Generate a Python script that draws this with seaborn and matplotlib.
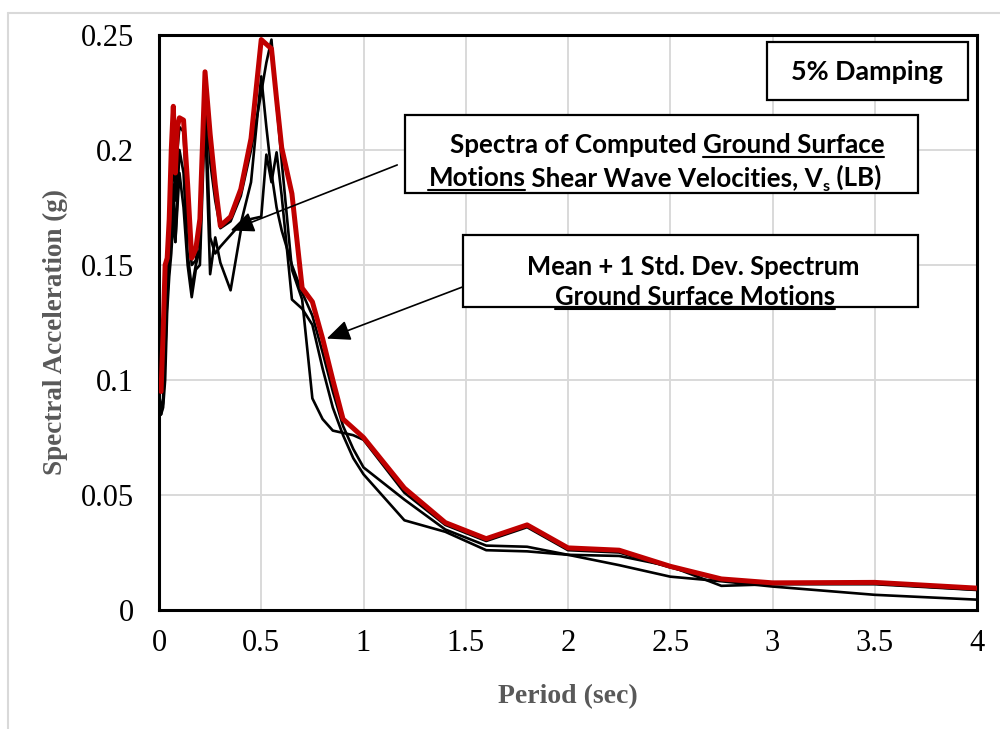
import numpy as np
import pandas as pd
import matplotlib
matplotlib.use("Agg")
import matplotlib.pyplot as plt
import seaborn as sns
from matplotlib.patches import Rectangle
from matplotlib.lines import Line2D
from matplotlib.transforms import IdentityTransform

# ---------------- data ----------------
periods = [0.01, 0.02, 0.03, 0.04, 0.05, 0.06, 0.07, 0.08, 0.09, 0.1, 0.12, 0.14,
           0.16, 0.18, 0.2, 0.225, 0.25, 0.275, 0.3, 0.35, 0.4, 0.45, 0.5, 0.525,
           0.55, 0.575, 0.6, 0.65, 0.7, 0.75, 0.8, 0.85, 0.9, 0.95, 1.0, 1.2, 1.4,
           1.6, 1.8, 2.0, 2.25, 2.5, 2.75, 3.0, 3.5, 4.0]

sa_mean_1sd = [0.095, 0.12, 0.150, 0.153, 0.17, 0.20, 0.219, 0.19, 0.21, 0.214, 0.213, 0.185,
               0.153, 0.157, 0.17, 0.234, 0.207, 0.185, 0.167, 0.171, 0.183, 0.205, 0.248, 0.246,
               0.244, 0.222, 0.201, 0.181, 0.140, 0.134, 0.118, 0.100, 0.083, 0.079, 0.075, 0.053, 0.038,
               0.031, 0.037, 0.027, 0.026, 0.019, 0.0135, 0.0118, 0.012, 0.0095]

sa_motion_1 = [0.088, 0.092, 0.125, 0.145, 0.16, 0.175, 0.205, 0.178, 0.20, 0.21, 0.208, 0.17,
               0.15, 0.152, 0.165, 0.232, 0.195, 0.178, 0.166, 0.169, 0.18, 0.20, 0.225, 0.238,
               0.248, 0.22, 0.195, 0.148, 0.135, 0.092, 0.083, 0.078, 0.077, 0.076, 0.074, 0.051, 0.037,
               0.030, 0.036, 0.026, 0.025, 0.0185, 0.013, 0.0115, 0.0115, 0.0088]

sa_motion_2 = [0.085, 0.09, 0.11, 0.135, 0.15, 0.16, 0.185, 0.16, 0.18, 0.20, 0.19, 0.155,
               0.14, 0.15, 0.157, 0.225, 0.162, 0.155, 0.158, 0.163, 0.168, 0.186, 0.232, 0.21,
               0.19, 0.175, 0.165, 0.15, 0.138, 0.128, 0.112, 0.095, 0.08, 0.07, 0.062, 0.048, 0.035,
               0.028, 0.0275, 0.024, 0.0235, 0.019, 0.0105, 0.0112, 0.0112, 0.0087]

sa_motion_3 = [0.085, 0.088, 0.10, 0.13, 0.145, 0.155, 0.17, 0.16, 0.175, 0.19, 0.175, 0.15,
               0.136, 0.148, 0.15, 0.215, 0.146, 0.162, 0.151, 0.139, 0.165, 0.170, 0.171, 0.198,
               0.186, 0.199, 0.18, 0.135, 0.131, 0.124, 0.105, 0.088, 0.076, 0.066, 0.059, 0.039, 0.034,
               0.026, 0.0255, 0.024, 0.0195, 0.0145, 0.0125, 0.0102, 0.0066, 0.0045]

x_ticks = [0, 0.5, 1, 1.5, 2, 2.5, 3, 3.5, 4]
x_tick_labels = ["0", "0.5", "1", "1.5", "2", "2.5", "3", "3.5", "4"]
y_ticks = [0, 0.05, 0.1, 0.15, 0.2, 0.25]
y_tick_labels = ["0", "0.05", "0.1", "0.15", "0.2", "0.25"]

# ---------------- style ----------------
sns.set_theme(style="white")
plt.rcParams['font.family'] = ['Liberation Serif', 'DejaVu Serif']

W, H = 1000, 729
fig = plt.figure(figsize=(W / 100, H / 100), dpi=100)
fig.patch.set_facecolor("white")

ax_l, ax_r, ax_t, ax_b = 159, 977, 35, 610
ax = fig.add_axes([ax_l / W, 1 - ax_b / H, (ax_r - ax_l) / W, (ax_b - ax_t) / H])

black_series = [sa_motion_1, sa_motion_2, sa_motion_3]
for k, vals in enumerate(black_series):
    d = pd.DataFrame({"Period": periods, "Sa": vals})
    sns.lineplot(data=d, x="Period", y="Sa", color="black", linewidth=1.9,
                 estimator=None, sort=False, ax=ax, legend=False, zorder=3)

d_red = pd.DataFrame({"Period": periods, "Sa": sa_mean_1sd})
sns.lineplot(data=d_red, x="Period", y="Sa", color="#c00000", linewidth=3.6,
             estimator=None, sort=False, ax=ax, legend=False, zorder=4)

ax.set_xlim(0, 4)
ax.set_ylim(0, 0.25)
ax.set_xticks(x_ticks)
ax.set_xticklabels(x_tick_labels)
ax.set_yticks(y_ticks)
ax.set_yticklabels(y_tick_labels)
ax.grid(True, color="#d9d9d9", linewidth=1.4)
ax.set_axisbelow(True)
for s in ax.spines.values():
    s.set_color("black")
    s.set_linewidth(2.2)
    s.set_visible(True)
ax.tick_params(axis="both", length=0, labelsize=22, colors="black")
ax.tick_params(axis="x", pad=14)
ax.tick_params(axis="y", pad=18)
ax.set_xlabel("")
ax.set_ylabel("")

fig.text(568 / W, 1 - 697 / H, "Period (sec)", ha="center", va="center",
         fontsize=20, fontweight="bold", color="#595959")
fig.text(55 / W, 1 - 332 / H, "Spectral Acceleration (g)", ha="center", va="center",
         rotation=90, fontsize=19.5, fontweight="bold", color="#595959")

# outer light border
fig.add_artist(Line2D([8 / W, 8 / W], [0, 1 - 13 / H], transform=fig.transFigure,
                      color="#d9d9d9", linewidth=1.5))
fig.add_artist(Line2D([8 / W, 1], [1 - 13 / H, 1 - 13 / H], transform=fig.transFigure,
                      color="#d9d9d9", linewidth=1.5))

# arrows
arrow_kw = dict(arrowstyle="-|>,head_length=0.8,head_width=0.35", color="black",
                lw=1.2, mutation_scale=18, shrinkA=0, shrinkB=0)
ax.annotate("", xy=(0.35, 0.165), xytext=(1.165, 0.1935), arrowprops=arrow_kw, zorder=6)
ax.annotate("", xy=(0.82, 0.118), xytext=(1.53, 0.142), arrowprops=arrow_kw, zorder=6)

# ---------------- text boxes (pixel layout) ----------------
fig.canvas.draw()
renderer = fig.canvas.get_renderer()
BOXFONT = ['Lato', 'DejaVu Sans']


def seg_width(s, size):
    t1 = fig.text(0, 0, "|" + s + "|", fontsize=size, fontweight="bold", family=BOXFONT)
    t2 = fig.text(0, 0, "||", fontsize=size, fontweight="bold", family=BOXFONT)
    w = t1.get_window_extent(renderer).width - t2.get_window_extent(renderer).width
    t1.remove()
    t2.remove()
    return w


def draw_line(cx, base_y, segments, size):
    # segments: (text, underline, subscript); base_y measured from the top in pixels
    widths = []
    for txt, ul, sub in segments:
        widths.append(seg_width(txt, size * 0.62 if sub else size))
    total = sum(widths)
    x = cx - total / 2
    for (txt, ul, sub), w in zip(segments, widths):
        fs = size * 0.62 if sub else size
        yb = base_y + (5 if sub else 0)
        fig.text(x, H - yb, txt, transform=IdentityTransform(), ha="left", va="baseline",
                 fontsize=fs, fontweight="bold", family=BOXFONT, color="black", zorder=11)
        if ul:
            txt_l = len(txt) - len(txt.lstrip())
            lead = seg_width(txt[:txt_l], fs) if txt_l else 0
            wt = seg_width(txt.strip(), fs)
            fig.add_artist(Line2D([x + lead, x + lead + wt], [H - yb - 4, H - yb - 4],
                                  transform=IdentityTransform(), color="black",
                                  linewidth=1.5, zorder=11))
        x += w


def fit_size(segments, target):
    base = 20
    w = sum(seg_width(t, base * 0.62 if sb else base) for t, u, sb in segments)
    return base * target / w


def box(x0, y0, x1, y1):
    fig.add_artist(Rectangle((x0, H - y1), x1 - x0, y1 - y0, transform=IdentityTransform(),
                             facecolor="white", edgecolor="black", linewidth=1.6, zorder=10))


# box: 5% Damping
box(767, 42, 968, 100)
l0 = [("5% Damping", False, False)]
s0 = fit_size(l0, 152)
draw_line(867, 80, l0, s0)

# box: computed spectra
box(405, 115, 918, 193)
l1 = [("Spectra of Computed ", False, False), ("Ground Surface", True, False)]
l2 = [("Motions", True, False), (" Shear Wave Velocities, V", False, False),
      ("s", False, True), (" (LB)", False, False)]
s1 = fit_size(l1, 434)
draw_line(667, 153, l1, s1)
draw_line(655, 186, l2, s1)

# box: mean + 1 sd
box(463, 235, 918, 307)
l3 = [("Mean + 1 Std. Dev. Spectrum", False, False)]
l4 = [("Ground Surface Motions", True, False)]
s3 = fit_size(l3, 333)
draw_line(693, 275, l3, s3)
draw_line(695, 305, l4, s3)

fig.savefig("out.png", dpi=100, facecolor="white")
